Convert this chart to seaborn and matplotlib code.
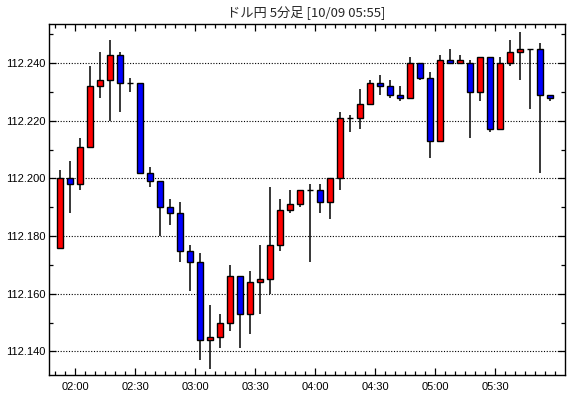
import matplotlib
matplotlib.use('Agg')
import matplotlib.pyplot as plt
from matplotlib.ticker import MultipleLocator, FormatStrFormatter
import seaborn as sns

# USD/JPY 5 minute candles, first bar starts 01:50
opens = [
    112.176, 112.200, 112.198, 112.211, 112.232, 112.234, 112.243, 112.233, 112.233, 112.202,
    112.199, 112.190, 112.188, 112.175, 112.171, 112.144, 112.145, 112.150, 112.166, 112.153,
    112.164, 112.165, 112.177, 112.189, 112.191, 112.196, 112.196, 112.192, 112.200, 112.221,
    112.221, 112.226, 112.233, 112.232, 112.229, 112.228, 112.240, 112.235, 112.213, 112.241,
    112.240, 112.240, 112.230, 112.242, 112.217, 112.240, 112.244, 112.245, 112.245, 112.229,
]
highs = [
    112.203, 112.206, 112.214, 112.239, 112.244, 112.248, 112.244, 112.235, 112.233, 112.204,
    112.199, 112.193, 112.192, 112.177, 112.174, 112.156, 112.153, 112.170, 112.166, 112.168,
    112.177, 112.197, 112.193, 112.196, 112.196, 112.198, 112.198, 112.200, 112.223, 112.222,
    112.231, 112.234, 112.236, 112.234, 112.232, 112.242, 112.240, 112.237, 112.243, 112.245,
    112.243, 112.241, 112.242, 112.242, 112.242, 112.248, 112.251, 112.245, 112.247, 112.229,
]
lows = [
    112.176, 112.188, 112.196, 112.211, 112.228, 112.220, 112.223, 112.230, 112.202, 112.197,
    112.180, 112.184, 112.171, 112.161, 112.137, 112.134, 112.141, 112.147, 112.141, 112.146,
    112.153, 112.160, 112.175, 112.188, 112.190, 112.171, 112.188, 112.186, 112.196, 112.216,
    112.217, 112.226, 112.229, 112.228, 112.227, 112.228, 112.234, 112.207, 112.213, 112.240,
    112.240, 112.214, 112.227, 112.216, 112.217, 112.239, 112.234, 112.224, 112.202, 112.227,
]
closes = [
    112.200, 112.198, 112.211, 112.232, 112.234, 112.243, 112.233, 112.233, 112.202, 112.199,
    112.190, 112.188, 112.175, 112.171, 112.144, 112.145, 112.150, 112.166, 112.153, 112.164,
    112.165, 112.177, 112.189, 112.191, 112.196, 112.196, 112.192, 112.200, 112.221, 112.221,
    112.226, 112.233, 112.232, 112.229, 112.228, 112.240, 112.235, 112.213, 112.241, 112.240,
    112.241, 112.230, 112.242, 112.217, 112.240, 112.244, 112.245, 112.245, 112.229, 112.228,
]
time_labels = ['02:00', '02:30', '03:00', '03:30', '04:00', '04:30', '05:00', '05:30']
title = 'ドル円 5分足 [10/09 05:55]'

sns.set_style('ticks')
plt.rcParams['font.family'] = ['Liberation Sans', 'DejaVu Sans']

fig = plt.figure(figsize=(5.7, 3.98), dpi=100)
ax = fig.add_axes([49.3 / 570, 23 / 398, 515.7 / 570, 350.7 / 398])

idx = list(range(len(opens)))
colors = ['#ff0000' if c >= o else '#0000ff' for o, c in zip(opens, closes)]
bottoms = [min(o, c) for o, c in zip(opens, closes)]
heights = [abs(c - o) for o, c in zip(opens, closes)]

ax.vlines(idx, lows, highs, color='black', linewidth=1.1, zorder=2)
ax.bar(idx, heights, bottom=bottoms, width=0.62, color=colors,
       edgecolor='black', linewidth=1.0, zorder=3)

ax.set_xlim(-1.07, 50.5)
ax.set_ylim(112.1318, 112.2535)

ax.yaxis.set_major_locator(MultipleLocator(0.02))
ax.yaxis.set_minor_locator(MultipleLocator(0.01))
ax.yaxis.set_major_formatter(FormatStrFormatter('%.3f'))
ax.set_xticks([1.5 + 6 * k for k in range(len(time_labels))])
ax.set_xticklabels(time_labels)
ax.set_xticks([i + 0.5 for i in range(-1, 50)], minor=True)

ax.grid(axis='y', which='major', color='black', linestyle=(0, (1, 1.5)), linewidth=0.8)
ax.set_axisbelow(True)

ax.tick_params(which='both', direction='in', top=True, right=True,
               labelsize=8, colors='black', width=0.9)
ax.tick_params(axis='y', pad=2.5)
ax.tick_params(axis='x', pad=5)
ax.tick_params(which='major', length=5)
ax.tick_params(which='minor', length=3)
for s in ax.spines.values():
    s.set_color('black')
    s.set_linewidth(1.0)

fig.text(306 / 570, 1 - 12 / 398, title, ha='center', va='center', fontsize=9.5,
         family=['Noto Sans CJK JP', 'DejaVu Sans'])

fig.savefig('out.png', dpi=100)
